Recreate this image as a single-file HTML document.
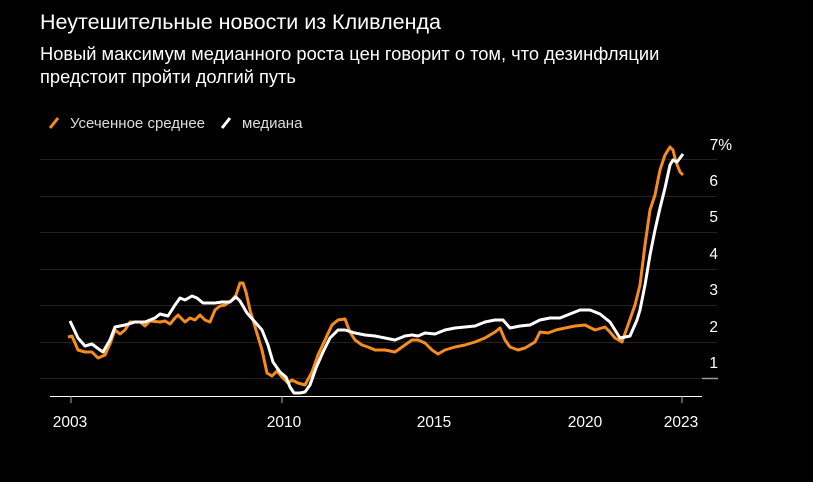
<!DOCTYPE html>
<html><head><meta charset="utf-8"><style>
body{margin:0;background:#000;width:813px;height:477px;overflow:hidden;font-family:"Liberation Sans",sans-serif;color:#fff}
</style></head><body>
<svg width="813" height="477" xmlns="http://www.w3.org/2000/svg" font-family="Liberation Sans, sans-serif">
<text x="40" y="29" font-size="21.5" fill="#fff">Неутешительные новости из Кливленда</text>
<text x="40" y="60" font-size="18.3" fill="#fff">Новый максимум медианного роста цен говорит о том, что дезинфляции</text>
<text x="40" y="83" font-size="18.3" fill="#fff">предстоит пройти долгий путь</text>
<line x1="50" y1="128" x2="58" y2="118" stroke="#f68b1f" stroke-width="3"/>
<text x="70" y="128" font-size="15" fill="#ddd">Усеченное среднее</text>
<line x1="222" y1="128" x2="230" y2="118" stroke="#fff" stroke-width="3"/>
<text x="242" y="128" font-size="15" fill="#ddd">медиана</text>
<g stroke="#222" stroke-width="1">
<line x1="40" y1="159.5" x2="717" y2="159.5"/><line x1="40" y1="196.5" x2="717" y2="196.5"/>
<line x1="40" y1="232.5" x2="717" y2="232.5"/><line x1="40" y1="269.5" x2="717" y2="269.5"/>
<line x1="40" y1="305.5" x2="717" y2="305.5"/><line x1="40" y1="342.5" x2="717" y2="342.5"/>
<line x1="40" y1="378.5" x2="717" y2="378.5"/></g>
<line x1="702" y1="378.5" x2="718" y2="378.5" stroke="#999" stroke-width="1.5"/>
<g font-size="15.5" fill="#fff" text-anchor="end">
<text x="732" y="150">7%</text><text x="718" y="186">6</text><text x="718" y="222">5</text>
<text x="718" y="259">4</text><text x="718" y="295">3</text><text x="718" y="332">2</text><text x="718" y="368">1</text></g>
<line x1="50" y1="396.5" x2="702" y2="396.5" stroke="#fff" stroke-width="1"/>
<g stroke="#aaa"><line x1="71" y1="396" x2="71" y2="403"/><line x1="282" y1="396" x2="282" y2="403"/><line x1="682" y1="396" x2="682" y2="403"/></g>
<g font-size="15.5" fill="#fff" text-anchor="middle">
<text x="70" y="427">2003</text><text x="284" y="427">2010</text><text x="434" y="427">2015</text><text x="585" y="427">2020</text><text x="681" y="427">2023</text></g>
<polyline fill="none" stroke="#f68b1f" stroke-width="3" stroke-linejoin="round" points="68,337 72,336 78,350 85,352 92,352 98,358 105,355 110,344 115,330 120,334 125,330 130,322 140,322 145,326 150,321 160,322 165,321 170,324 175,318 178,315 185,322 190,318 195,320 200,315 205,320 210,322 215,310 220,306 225,305 232,300 236,295 240,283 243,283 246,292 250,310 256,330 262,350 267,373 272,376 277,371 282,377 288,383 292,380 298,383 305,385 312,372 318,355 325,340 332,325 338,320 345,319 350,332 355,340 362,345 368,347 375,350 385,350 395,352 405,345 412,340 418,340 425,343 432,350 438,354 445,350 455,347 465,345 475,342 485,338 495,332 500,328 505,340 510,347 518,350 525,348 535,342 540,332 548,333 556,330 565,328 575,326 585,325 595,330 605,327 610,332 615,338 622,342 628,325 635,305 640,285 645,245 650,210 655,195 660,170 665,155 670,147 673,150 676,162 680,172 683,175"/>
<polyline fill="none" stroke="#fff" stroke-width="3" stroke-linejoin="round" points="70,321 78,338 85,346 92,344 100,350 103,352 110,340 115,327 125,325 135,322 145,322 155,318 160,314 168,316 175,305 180,298 185,300 192,296 197,298 203,303 210,303 215,303 222,302 230,302 236,297 240,301 247,313 255,322 262,330 268,345 273,362 280,372 286,377 290,387 294,393 300,393 305,392 310,385 316,368 323,352 330,338 338,330 345,330 355,333 365,335 375,336 385,338 395,340 405,336 412,335 418,336 425,333 435,334 445,330 455,328 465,327 475,326 485,322 495,320 503,320 510,328 520,326 530,325 540,320 550,318 560,318 570,314 580,310 590,310 600,314 610,322 620,338 630,336 637,320 640,310 645,285 650,255 655,230 660,208 665,188 670,165 673,160 677,162 680,158 683,154"/>
</svg>
</body></html>
